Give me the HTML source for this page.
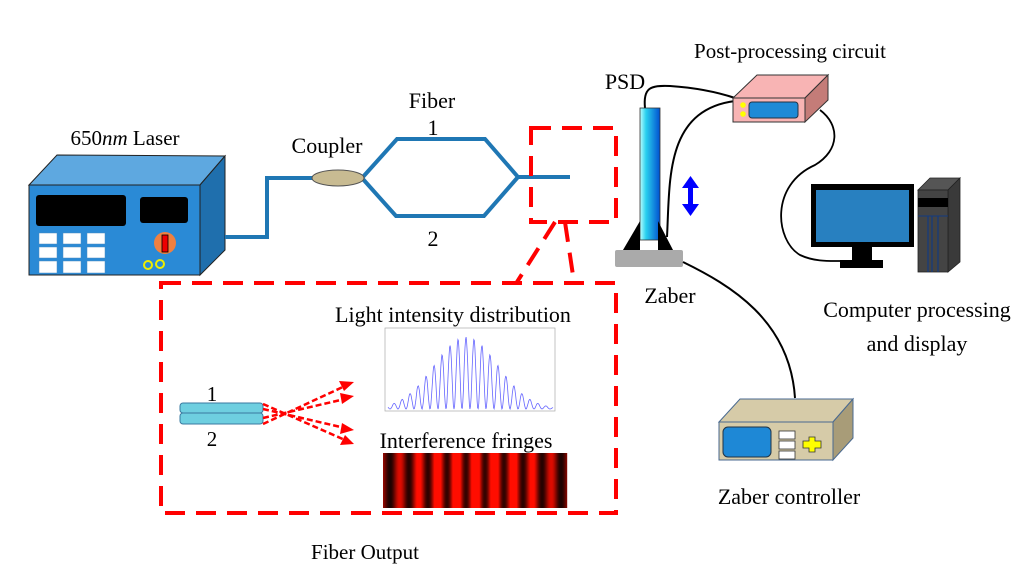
<!DOCTYPE html>
<html><head><meta charset="utf-8"><style>
html,body{margin:0;padding:0;background:#fff;}
svg{display:block}
text{font-family:"Liberation Serif",serif;fill:#000}
</style></head><body>
<svg width="1024" height="578" viewBox="0 0 1024 578" xmlns="http://www.w3.org/2000/svg">
<defs>
<linearGradient id="psd" x1="0" x2="1"><stop offset="0" stop-color="#bff"/><stop offset="0.3" stop-color="#2ad0ee"/><stop offset="1" stop-color="#0050d0"/></linearGradient>
</defs>
<!-- Laser -->
<polygon points="29,185 57,155 225,156 200,185" fill="#5ea8e0" stroke="#222" stroke-width="1"/>
<polygon points="200,185 225,156 225,250 200,275" fill="#1f6fad" stroke="#222" stroke-width="1"/>
<rect x="29" y="185" width="171" height="90" fill="#2a8ad6" stroke="#222" stroke-width="1"/>
<rect x="36" y="195" width="90" height="31" rx="3" fill="#000"/>
<rect x="140" y="197" width="48" height="26" rx="3" fill="#000"/>
<g fill="#fff" stroke="#4a8ac0" stroke-width="0.5">
<rect x="39" y="233" width="18" height="11"/><rect x="63" y="233" width="18" height="11"/><rect x="87" y="233" width="18" height="11"/>
<rect x="39" y="247" width="18" height="11"/><rect x="63" y="247" width="18" height="11"/><rect x="87" y="247" width="18" height="11"/>
<rect x="39" y="261" width="18" height="12"/><rect x="63" y="261" width="18" height="12"/><rect x="87" y="261" width="18" height="12"/>
</g>
<circle cx="165" cy="243" r="11" fill="#f08040"/>
<rect x="162" y="235" width="6" height="17" fill="#e00" stroke="#000" stroke-width="0.8"/>
<circle cx="148" cy="265" r="4" fill="none" stroke="#ee0" stroke-width="2"/>
<circle cx="160" cy="264" r="4" fill="none" stroke="#ee0" stroke-width="2"/>
<text x="125" y="145" font-size="21" text-anchor="middle">650<tspan font-style="italic">nm</tspan> Laser</text>
<!-- fiber -->
<g fill="none" stroke="#1f77b4" stroke-width="4">
<polyline points="225,237 267,237 267,178 315,178"/>
<polyline points="362,178 397,139 485,139 518,177 570,177"/>
<polyline points="362,178 396,216 484,216 518,177"/>
</g>
<ellipse cx="338" cy="178" rx="26" ry="8" fill="#c8bb92" stroke="#555" stroke-width="1"/>
<text x="327" y="153" font-size="22" text-anchor="middle">Coupler</text>
<text x="432" y="108" font-size="22" text-anchor="middle">Fiber</text>
<text x="433" y="135" font-size="22" text-anchor="middle">1</text>
<text x="433" y="246" font-size="22" text-anchor="middle">2</text>
<!-- red dashed -->
<g fill="none" stroke="#f00" stroke-width="4" stroke-dasharray="20,11">
<rect x="531" y="128" width="85" height="94"/>
<polyline points="555,222 517,282"/>
<polyline points="565,222 574,282"/>
<rect x="161" y="283" width="455" height="230"/>
</g>
<!-- inner -->
<text x="453" y="322" font-size="22" text-anchor="middle">Light intensity distribution</text>
<text x="466" y="448" font-size="22" text-anchor="middle">Interference fringes</text>
<text x="212" y="401" font-size="21" text-anchor="middle">1</text>
<text x="212" y="446" font-size="21" text-anchor="middle">2</text>
<rect x="180" y="403" width="83" height="10" rx="3" fill="#6ecfe0" stroke="#3a7aa0" stroke-width="1"/>
<rect x="180" y="413" width="83" height="11" rx="3" fill="#6ecfe0" stroke="#3a7aa0" stroke-width="1"/>
<g stroke="#f00" stroke-width="2.5" stroke-dasharray="6,3" fill="none">
<line x1="263" y1="404" x2="345" y2="440"/>
<line x1="263" y1="409" x2="345" y2="428"/>
<line x1="263" y1="418" x2="345" y2="399"/>
<line x1="263" y1="424" x2="345" y2="386"/>
</g>
<g fill="#f00">
<polygon points="354,444 340,445 345,435"/>
<polygon points="354,430 340,434 342,423"/>
<polygon points="354,396 342,404 340,393"/>
<polygon points="354,382 344,391 339,381"/>
</g>
<rect x="385" y="328" width="170" height="83" fill="#fff" stroke="#aaa" stroke-width="0.7"/>
<path id="curve" fill="none" stroke="#66f" stroke-width="0.8"/>
<g id="fringes"></g>
<!-- PSD -->
<path d="M645,108 C643,88 650,85 670,86 C700,88 720,93 735,98" fill="none" stroke="#000" stroke-width="2"/>
<path d="M667,237 C670,180 665,110 735,101" fill="none" stroke="#000" stroke-width="2"/>
<rect x="640" y="108" width="20" height="132" fill="url(#psd)" stroke="#333" stroke-width="0.8"/>
<polygon points="623,250 640,221 640,250" fill="#000"/>
<polygon points="658,221 673,250 658,250" fill="#000"/>
<rect x="615" y="250" width="68" height="17" rx="2" fill="#aaa"/>
<text x="625" y="89" font-size="22" text-anchor="middle">PSD</text>
<text x="670" y="303" font-size="22" text-anchor="middle">Zaber</text>
<!-- blue arrow -->
<rect x="688" y="184" width="5" height="24" fill="#00f"/>
<polygon points="690.5,176 682,188 699,188" fill="#00f"/>
<polygon points="690.5,216 682,204 699,204" fill="#00f"/>
<!-- cables -->
<path d="M820,110 C840,125 840,150 815,165 C770,185 775,240 800,255 C815,262 830,261 842,261" fill="none" stroke="#000" stroke-width="1.8"/>
<path d="M683,262 C730,285 790,320 795,398" fill="none" stroke="#000" stroke-width="2"/>
<!-- post-processing -->
<polygon points="733,98 757,75 828,75 805,98" fill="#f8b4b4" stroke="#333" stroke-width="1"/>
<polygon points="805,98 828,75 828,100 805,122" fill="#c47c78" stroke="#333" stroke-width="1"/>
<rect x="733" y="98" width="72" height="24" fill="#f8b4b4" stroke="#333" stroke-width="1"/>
<rect x="749" y="102" width="49" height="16" rx="3" fill="#1e8ad6" stroke="#234" stroke-width="1"/>
<circle cx="743" cy="105" r="2.8" fill="#ff0"/>
<circle cx="743" cy="114" r="2.8" fill="#ff0"/>
<text x="790" y="58" font-size="21" text-anchor="middle">Post-processing circuit</text>
<!-- computer -->
<rect x="811" y="184" width="103" height="63" fill="#000"/>
<rect x="816" y="190" width="93" height="52" fill="#2880c0"/>
<polygon points="852,247 872,247 872,262 852,262" fill="#000"/>
<rect x="840" y="260" width="43" height="8" fill="#000"/>
<polygon points="918,190 930,178 960,178 948,190" fill="#555" stroke="#222" stroke-width="0.8"/>
<polygon points="948,190 960,178 960,262 948,272" fill="#3a3a3a" stroke="#222" stroke-width="0.8"/>
<rect x="918" y="190" width="30" height="82" fill="#444" stroke="#222" stroke-width="0.8"/>
<rect x="918" y="198" width="30" height="9" fill="#000"/>
<line x1="918" y1="216" x2="948" y2="216" stroke="#123a80" stroke-width="1"/>
<line x1="928" y1="216" x2="928" y2="272" stroke="#123a80" stroke-width="1.2"/>
<line x1="932" y1="216" x2="932" y2="272" stroke="#123a80" stroke-width="1.2"/>
<line x1="938" y1="216" x2="938" y2="272" stroke="#123a80" stroke-width="1.2"/>
<text x="917" y="317" font-size="22" text-anchor="middle">Computer processing</text>
<text x="917" y="351" font-size="22" text-anchor="middle">and display</text>
<!-- zaber controller -->
<polygon points="719,422 740,399 853,399 833,422" fill="#d6cba8" stroke="#4a6a90" stroke-width="1"/>
<polygon points="833,422 853,399 853,438 833,460" fill="#a89c78" stroke="#4a6a90" stroke-width="1"/>
<rect x="719" y="422" width="114" height="38" fill="#d6cba8" stroke="#4a6a90" stroke-width="1"/>
<rect x="723" y="427" width="48" height="30" rx="5" fill="#1e88d6" stroke="#234" stroke-width="1"/>
<rect x="779" y="431" width="16" height="8" fill="#fff" stroke="#333" stroke-width="0.8"/>
<rect x="779" y="441" width="16" height="8" fill="#fff" stroke="#333" stroke-width="0.8"/>
<rect x="779" y="451" width="16" height="8" fill="#fff" stroke="#333" stroke-width="0.8"/>
<polygon points="809,437 815,437 815,441 821,441 821,448 815,448 815,452 809,452 809,448 803,448 803,441 809,441" fill="#ff0" stroke="#333" stroke-width="0.8"/>
<text x="789" y="504" font-size="22" text-anchor="middle">Zaber controller</text>
<text x="365" y="559" font-size="21" text-anchor="middle">Fiber Output</text>
</svg>
<script>
(function(){
var ns="http://www.w3.org/2000/svg";
var d="";
for(var i=0;i<=300;i++){
 var x=388+i*(165/300);
 var u=(x-466)/45;
 var env=Math.exp(-u*u);
 var y=409-72*env*Math.pow(Math.cos((x-466)*Math.PI/8),2);
 d+=(i?"L":"M")+x.toFixed(1)+","+y.toFixed(1);
}
document.getElementById("curve").setAttribute("d",d);
var g=document.getElementById("fringes");
for(var j=0;j<184;j++){
 var x=383+j;
 var u=(x-475)/110;
 var env=Math.exp(-u*u);
 var v=env*(0.15+0.85*Math.pow(Math.cos((x-475)*Math.PI/19),2));
 var r=Math.round(255*Math.min(1,v*1.4));
 var r2=document.createElementNS(ns,"rect");
 r2.setAttribute("x",x);r2.setAttribute("y",453);r2.setAttribute("width",1.2);r2.setAttribute("height",55);
 r2.setAttribute("fill","rgb("+r+","+Math.round(r*0.05)+",0)");
 g.appendChild(r2);
}
})();
</script>
</body></html>
